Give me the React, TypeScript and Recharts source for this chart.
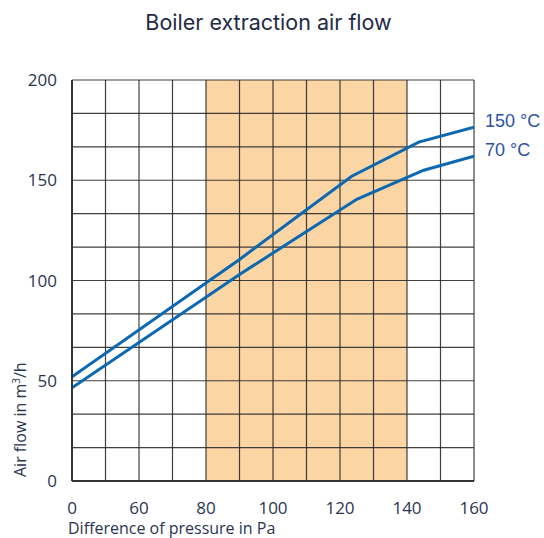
import React from "react";
import {
  LineChart,
  Line,
  XAxis,
  YAxis,
  CartesianGrid,
  LabelList,
} from "recharts";

// Pressure axis is broken: the first tick ("0") sits where 40 Pa would be.
const xGridTicks = [40, 50, 60, 70, 80, 90, 100, 110, 120, 130, 140, 150, 160];
const xTickLabels: Record<number, string> = {
  40: "0",
  60: "60",
  80: "80",
  100: "100",
  120: "120",
  140: "140",
  160: "160",
};
const yGridTicks = [0, 50 / 3, 100 / 3, 50, 200 / 3, 250 / 3, 100, 350 / 3, 400 / 3, 150, 500 / 3, 550 / 3, 200];
const yTickLabels = [0, 50, 100, 150, 200];

const series150 = [
  { p: 40, v: 52 },
  { p: 90, v: 110.5 },
  { p: 123.5, v: 152 },
  { p: 143.5, v: 169 },
  { p: 160, v: 176.5 },
];
const series70 = [
  { p: 40, v: 46.5 },
  { p: 90, v: 103 },
  { p: 125, v: 140.5 },
  { p: 145, v: 155 },
  { p: 160, v: 162 },
];
const seriesNames = ["150 °C", "70 °C"];
const recommendedRange = [80, 140];

const TEXT = "#2a3452";
const LINE = "#0b68b1";
const LABEL = "#2c52a3";
const GRID = "#2b2b2b";
const SHADE = "#fbd5a4";

const stripeColors = xGridTicks.map((t) =>
  t >= recommendedRange[0] && t < recommendedRange[1] ? SHADE : "#ffffff"
);

const endLabel = (name: string, count: number) => (props: any) => {
  const { x, y, index } = props;
  if (index !== count - 1) return null;
  return (
    <text
      x={x + 11}
      y={y - 6}
      dominantBaseline="central"
      fontFamily="'Liberation Sans', Arial, sans-serif"
      fontSize={18}
      fill={LABEL}
    >
      {name}
    </text>
  );
};

export default function App() {
  return (
    <div style={{ position: "absolute", left: 0, top: 0, width: 544, height: 538, background: "#fff" }}>
      <svg width={544} height={40} style={{ position: "absolute", left: 0, top: 0 }}>
        <text
          x={268.5}
          y={30}
          textAnchor="middle"
          fontFamily="Inter, 'Noto Sans', sans-serif"
          fontSize={21.5}
          fill="#232a45"
        >
          Boiler extraction air flow
        </text>
      </svg>
      <LineChart
        width={544}
        height={538}
        margin={{ top: 80, right: 70, bottom: 0, left: 0 }}
      >
        <CartesianGrid
          stroke={GRID}
          strokeWidth={1.2}
          strokeOpacity={0.9}
          verticalFill={stripeColors}
          fillOpacity={1}
        />
        <XAxis
          type="number"
          dataKey="p"
          domain={[40, 160]}
          ticks={xGridTicks}
          interval={0}
          height={57}
          tickSize={0}
          tickMargin={21}
          axisLine={{ stroke: "#333", strokeWidth: 2 }}
          tick={{ fill: TEXT, fontSize: 17, fontFamily: "'Open Sans', sans-serif" }}
          tickFormatter={(v: number) => xTickLabels[v] ?? ""}
          allowDataOverflow
          label={{
            content: (props: any) => {
              const vb = props.viewBox || {};
              return (
                <text
                  x={(vb.x ?? 72) - 4}
                  y={(vb.y ?? 481) + 53}
                  fontFamily="'Open Sans', sans-serif"
                  fontSize={16}
                  fill={TEXT}
                >
                  Difference of pressure in Pa
                </text>
              );
            },
          }}
        />
        <YAxis
          type="number"
          domain={[0, 200]}
          ticks={yGridTicks}
          interval={0}
          width={72}
          tickSize={0}
          tickMargin={15}
          axisLine={{ stroke: "#333", strokeWidth: 2 }}
          tick={{ fill: TEXT, fontSize: 17, fontFamily: "'Open Sans', sans-serif" }}
          tickFormatter={(v: number) => {
            const m = yTickLabels.find((l) => Math.abs(l - v) < 1e-6);
            return m === undefined ? "" : String(m);
          }}
          label={{
            content: (props: any) => {
              const vb = props.viewBox || {};
              const bx = 26;
              const by = (vb.y ?? 80) + (vb.height ?? 401) - 4;
              return (
                <text
                  x={bx}
                  y={by}
                  transform={`rotate(-90 ${bx} ${by})`}
                  fontFamily="'Open Sans', sans-serif"
                  fontSize={16}
                  fill={TEXT}
                >
                  Air flow in m<tspan dy={-6} fontSize={10}>3</tspan>
                  <tspan dy={6}>/h</tspan>
                </text>
              );
            },
          }}
        />
        <Line
          data={series150}
          dataKey="v"
          type="linear"
          stroke={LINE}
          strokeWidth={3}
          dot={false}
          isAnimationActive={false}
        >
          <LabelList dataKey="v" content={endLabel(seriesNames[0], series150.length)} />
        </Line>
        <Line
          data={series70}
          dataKey="v"
          type="linear"
          stroke={LINE}
          strokeWidth={3}
          dot={false}
          isAnimationActive={false}
        >
          <LabelList dataKey="v" content={endLabel(seriesNames[1], series70.length)} />
        </Line>
      </LineChart>
    </div>
  );
}
